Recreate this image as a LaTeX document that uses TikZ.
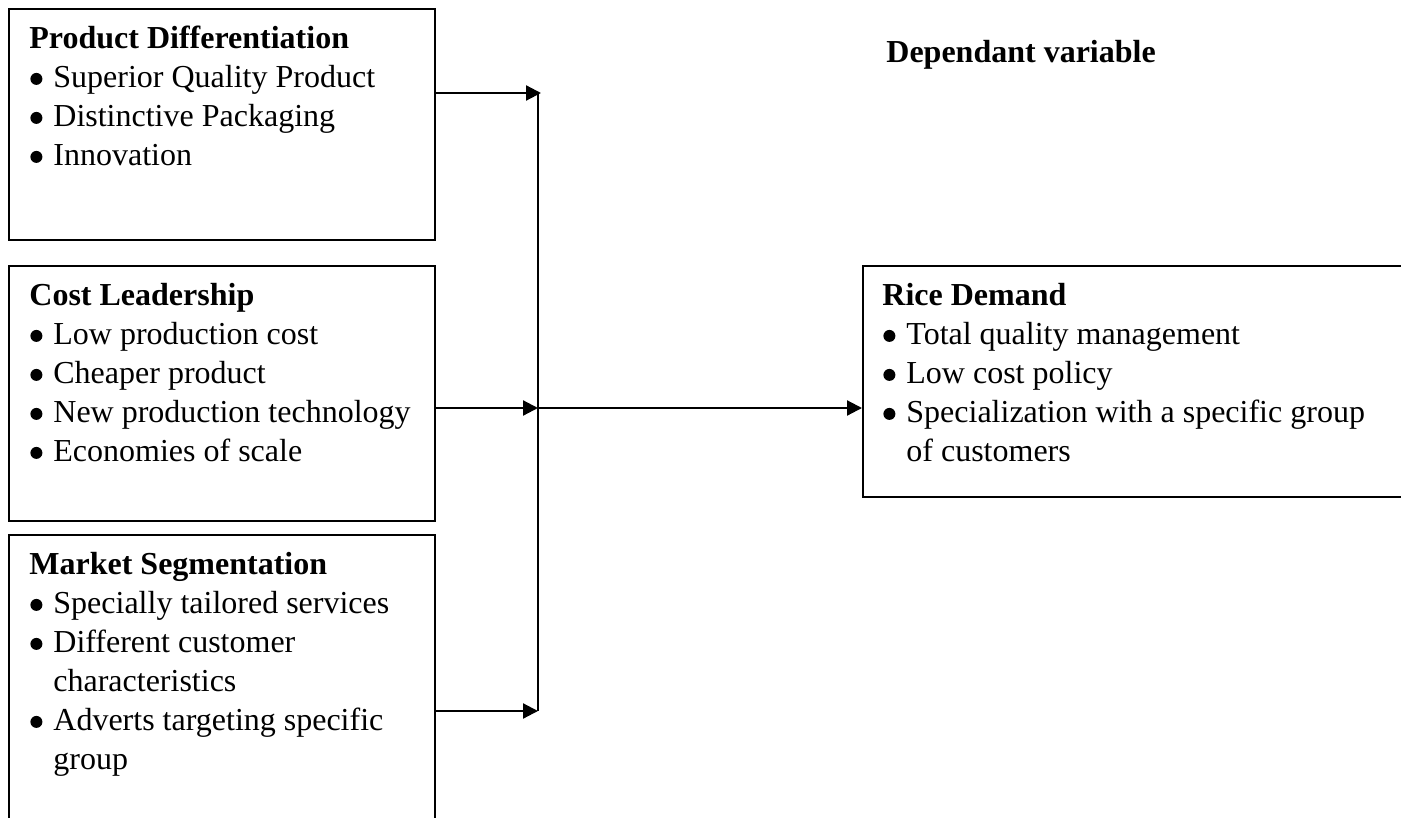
\documentclass[tikz,border=0pt]{standalone}
\usepackage{fontspec}
\setmainfont{Liberation Serif}
\usetikzlibrary{arrows.meta}
\newcommand\bul{\makebox[12pt][l]{\hspace{0.5pt}\raisebox{1.25pt}{\tikz\fill (0pt,0pt) circle (3pt);}}}
\newcommand\cont{\hspace*{12pt}}
\begin{document}
\begin{tikzpicture}[x=0.5pt,y=-0.5pt,
  box/.style={draw,line width=1pt,anchor=north west,inner sep=0pt},
  txt/.style={anchor=north west,inner sep=0pt,align=left,font={\fontsize{16}{19.5}\selectfont}},
  arr/.style={line width=1.1pt,-{Triangle[length=7.5pt,width=7.5pt]}},
  ln/.style={line width=1.1pt}]
\useasboundingbox (0,0) rectangle (1401,818);
\clip (0,0) rectangle (1401,818);
% boxes
\node[box,minimum width=213pt,minimum height=115.5pt] (b1) at (8,8) {};
\node[box,minimum width=213pt,minimum height=127.5pt] (b2) at (8,265) {};
\node[box,minimum width=213pt,minimum height=153pt] (b3) at (8,534) {};
\node[box,minimum width=279pt,minimum height=115.5pt] (rd) at (862,265) {};
% texts
\node[txt] (t1) at (29,18) {\rule{0pt}{15pt}\textbf{Product Differentiation}\\
  \bul Superior Quality Product\\
  \bul Distinctive Packaging\\
  \bul Innovation};
\node[txt] (t2) at (29,275) {\rule{0pt}{15pt}\textbf{Cost Leadership}\\
  \bul Low production cost\\
  \bul Cheaper product\\
  \bul New production technology\\
  \bul Economies of scale};
\node[txt] (t3) at (29,544) {\rule{0pt}{15pt}\textbf{Market Segmentation}\\
  \bul Specially tailored services\\
  \bul Different customer\\
  \cont characteristics\\
  \bul Adverts targeting specific\\
  \cont group};
\node[txt] (t4) at (882,275) {\rule{0pt}{15pt}\textbf{Rice Demand}\\
  \bul Total quality management\\
  \bul Low cost policy\\
  \bul Specialization with a specific group\\
  \cont of customers};
\node[anchor=base west,inner sep=0pt,font={\fontsize{16}{19.5}\selectfont\bfseries}] (dv) at (886,63) {Dependant variable};
% connectors
\coordinate (j1) at (538,93);
\coordinate (j2) at (538,408);
\coordinate (j3) at (538,711);
\coordinate (t1end) at (541,93);
\draw[arr] (b1.east |- j1) -- (t1end);
\draw[ln] (j1) -- (j3);
\draw[arr] (b2.east |- j2) -- (j2);
\draw[arr] (b3.east |- j3) -- (j3);
\draw[arr] (j2) -- (rd.west |- j2);
\end{tikzpicture}
\end{document}
